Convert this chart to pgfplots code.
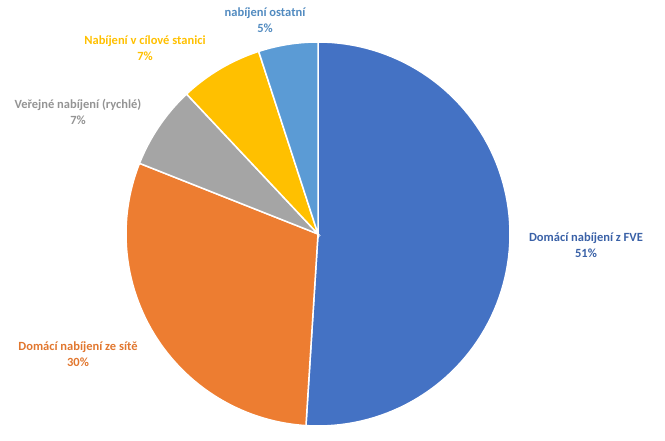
\documentclass[border=0pt]{standalone}
\usepackage{pgfplots}
\pgfplotsset{compat=1.18}
\usepackage{fontspec}
\setmainfont{Carlito}
\definecolor{cBlue}{HTML}{4472C4}
\definecolor{cOrange}{HTML}{ED7D31}
\definecolor{cGray}{HTML}{A5A5A5}
\definecolor{cYellow}{HTML}{FFC000}
\definecolor{cLBlue}{HTML}{5B9BD5}
\begin{document}
\begin{tikzpicture}
\begin{axis}[
  scale only axis, width=665pt, height=441pt,
  xmin=0, xmax=665, ymin=0, ymax=441,
  hide axis, clip=false,
]
\addplot[draw=none, forget plot] coordinates {(0,0) (665,441)};
% values in percent: 51, 30, 7, 7, 5 (clockwise from top)
\addplot[fill=cBlue, draw=white, line width=1.5pt, domain={0}:{51*3.6}, samples=90, variable=\t]
  ({318+192*sin(\t)}, {207+192*cos(\t)}) -- (axis cs:318,207) -- cycle;
\addplot[fill=cOrange, draw=white, line width=1.5pt, domain={51*3.6}:{81*3.6}, samples=60, variable=\t]
  ({318+192*sin(\t)}, {207+192*cos(\t)}) -- (axis cs:318,207) -- cycle;
\addplot[fill=cGray, draw=white, line width=1.5pt, domain={81*3.6}:{88*3.6}, samples=20, variable=\t]
  ({318+192*sin(\t)}, {207+192*cos(\t)}) -- (axis cs:318,207) -- cycle;
\addplot[fill=cYellow, draw=white, line width=1.5pt, domain={88*3.6}:{95*3.6}, samples=20, variable=\t]
  ({318+192*sin(\t)}, {207+192*cos(\t)}) -- (axis cs:318,207) -- cycle;
\addplot[fill=cLBlue, draw=white, line width=1.5pt, domain={95*3.6}:{100*3.6}, samples=20, variable=\t]
  ({318+192*sin(\t)}, {207+192*cos(\t)}) -- (axis cs:318,207) -- cycle;

\tikzset{lab/.style={align=center, font=\fontsize{12.5}{16}\selectfont\bfseries, inner sep=0pt}}
\node[lab, text=cLBlue!90!black] at (axis cs:265,420.5) {nabíjení ostatní\\5\%};
\node[lab, text=cYellow] at (axis cs:145,392.5) {Nabíjení v cílové stanici\\7\%};
\node[lab, text=cGray!90!black] at (axis cs:78,329.5) {Veřejné nabíjení (rychlé)\\7\%};
\node[lab, text=cBlue!85!black] at (axis cs:586,196) {Domácí nabíjení z FVE\\51\%};
\node[lab, text=cOrange!95!black] at (axis cs:78,86.5) {Domácí nabíjení ze sítě\\30\%};
\end{axis}
\end{tikzpicture}
\end{document}
